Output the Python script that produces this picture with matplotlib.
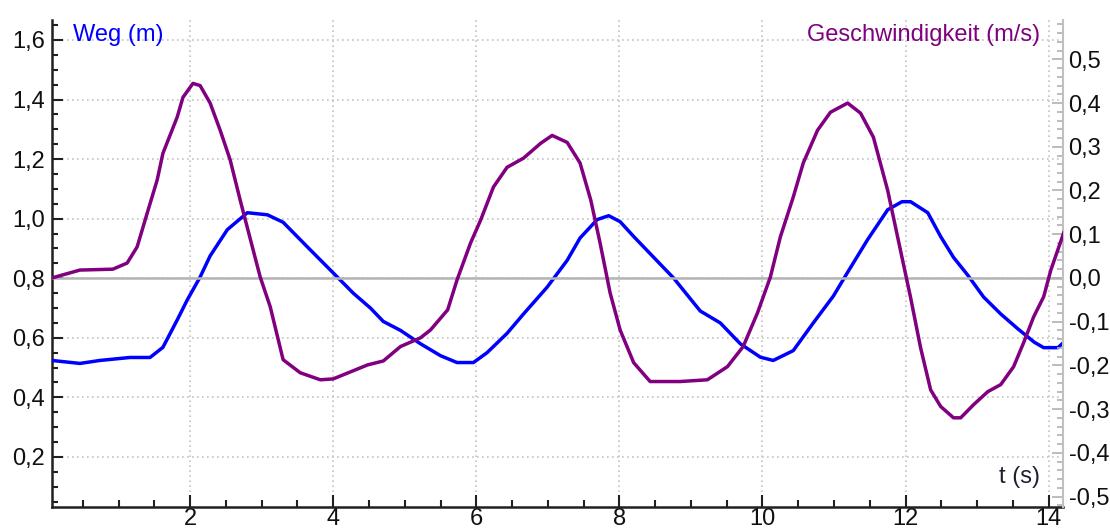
import matplotlib
matplotlib.use("Agg")
import matplotlib.pyplot as plt
from matplotlib.ticker import MultipleLocator, FuncFormatter

# Weg (m), left axis
t_weg = [0.07, 0.46, 0.74, 1.16, 1.44, 1.62, 1.82, 1.96, 2.14, 2.28, 2.52, 2.8,
         3.08, 3.3, 3.64, 4.0, 4.28, 4.52, 4.7, 4.94, 5.22, 5.5, 5.73, 5.96,
         6.15, 6.43, 6.66, 6.99, 7.27, 7.45, 7.69, 7.85, 8.01, 8.2, 8.48, 8.76,
         9.13, 9.41, 9.69, 9.97, 10.15, 10.43, 10.71, 10.99, 11.19, 11.47, 11.75,
         11.95, 12.07, 12.31, 12.49, 12.67, 12.87, 13.09, 13.33, 13.57, 13.8,
         13.93, 14.13, 14.21]
weg = [0.524, 0.514, 0.524, 0.534, 0.534, 0.568, 0.66, 0.727, 0.804, 0.875, 0.963, 1.02,
       1.013, 0.988, 0.905, 0.818, 0.75, 0.70, 0.655, 0.625, 0.58, 0.54, 0.517, 0.517,
       0.55, 0.615, 0.68, 0.77, 0.86, 0.935, 0.997, 1.01, 0.99, 0.94, 0.87, 0.80,
       0.69, 0.65, 0.58, 0.535, 0.524, 0.557, 0.65, 0.74, 0.82, 0.93, 1.03,
       1.057, 1.057, 1.02, 0.94, 0.87, 0.81, 0.737, 0.68, 0.63, 0.585,
       0.567, 0.567, 0.585]

# Geschwindigkeit (m/s), right axis
t_v = [0.07, 0.46, 0.92, 1.12, 1.26, 1.4, 1.54, 1.62, 1.82, 1.9, 2.04, 2.14, 2.28,
       2.42, 2.56, 2.7, 2.8, 2.98, 3.12, 3.3, 3.54, 3.82, 4.0, 4.24, 4.48, 4.7,
       4.94, 5.22, 5.36, 5.6, 5.73, 5.92, 6.06, 6.24, 6.43, 6.66, 6.9, 7.06, 7.27,
       7.45, 7.6, 7.73, 7.87, 8.01, 8.2, 8.43, 8.85, 9.23, 9.51, 9.73, 9.93, 10.11,
       10.25, 10.43, 10.57, 10.77, 10.95, 11.19, 11.37, 11.55, 11.75, 11.93, 12.07,
       12.21, 12.35, 12.49, 12.67, 12.77, 12.95, 13.15, 13.33, 13.51, 13.65, 13.79,
       13.93, 14.03, 14.21]
geschw = [0.0, 0.018, 0.02, 0.034, 0.071, 0.148, 0.224, 0.285, 0.368, 0.413, 0.445, 0.44, 0.40,
          0.338, 0.27, 0.178, 0.115, 0.002, -0.066, -0.187, -0.217, -0.233, -0.231, -0.215, -0.199, -0.19,
          -0.157, -0.137, -0.119, -0.073, -0.005, 0.08, 0.132, 0.208, 0.253, 0.274, 0.308, 0.326, 0.31,
          0.263, 0.178, 0.08, -0.034, -0.119, -0.194, -0.237, -0.237, -0.233, -0.203, -0.157, -0.08, 0.002,
          0.094, 0.185, 0.263, 0.338, 0.379, 0.40, 0.377, 0.322, 0.2, 0.062, -0.045,
          -0.16, -0.256, -0.294, -0.32, -0.32, -0.29, -0.26, -0.244, -0.203, -0.148, -0.089,
          -0.043, 0.018, 0.103]

BLUE = "#0000ff"
PURPLE = "#800080"
FONT = "Liberation Sans"
FS = 17

plt.rcParams["font.family"] = FONT

def komma(v, pos):
    if abs(v) < 1e-9:
        v = 0.0
    return f"{v:.1f}".replace(".", ",")

fig = plt.figure(figsize=(11.1, 5.32), dpi=100)
ax = fig.add_axes([52 / 1110, 25 / 532, 1011 / 1110, 487 / 532])
ax2 = ax.twinx()

# left axis
ax.plot(t_weg, weg, color=BLUE, lw=2.5, zorder=3)
ax.set_xlim(0.07, 14.2)
ax.set_ylim(0.032, 1.667)
ax.xaxis.set_major_locator(MultipleLocator(2))
ax.xaxis.set_minor_locator(MultipleLocator(0.5))
ax.yaxis.set_major_locator(MultipleLocator(0.2))
ax.yaxis.set_minor_locator(MultipleLocator(0.05))
ax.yaxis.set_major_formatter(FuncFormatter(komma))
ax.xaxis.set_major_formatter(FuncFormatter(lambda v, p: f"{v:.0f}"))
ax.grid(True, which="major", color="#c4c4c4", linestyle=(0, (1, 2)), lw=1.2)
ax.set_axisbelow(True)
ax.tick_params(axis="both", which="both", direction="in", width=1.5, color="#202020",
               labelsize=FS, labelcolor="#101010")
ax.tick_params(axis="y", which="major", length=8, pad=5)
ax.tick_params(axis="y", which="minor", length=4.5)
ax.tick_params(axis="x", which="major", length=9, pad=1)
ax.tick_params(axis="x", which="minor", length=5)
for s in ["top", "right"]:
    ax.spines[s].set_visible(False)
for s in ["left", "bottom"]:
    ax.spines[s].set_linewidth(1.8)
    ax.spines[s].set_color("#202020")

# right axis
ax2.axhline(0, color="#b4b4b4", lw=1.8, zorder=1)
ax2.plot(t_v, geschw, color=PURPLE, lw=2.5, zorder=3)
ax2.set_ylim(-0.524, 0.590)
ax2.yaxis.set_major_locator(MultipleLocator(0.1))
ax2.yaxis.set_minor_locator(MultipleLocator(0.02))
ax2.yaxis.set_major_formatter(FuncFormatter(komma))
ax2.tick_params(axis="y", which="both", direction="in", color="#b0b0b0", width=1.2,
                labelsize=FS, labelcolor="#101010")
ax2.tick_params(axis="y", which="major", length=8, pad=4)
ax2.tick_params(axis="y", which="minor", length=4.5)
for s in ["top", "left", "bottom"]:
    ax2.spines[s].set_visible(False)
ax2.spines["right"].set_color("#c0c0c0")
ax2.spines["right"].set_linewidth(1.5)

ax.text(0.021, 0.969, "Weg (m)", transform=ax.transAxes, color=BLUE,
        fontsize=FS, ha="left", va="center", zorder=5)
ax.text(0.977, 0.969, "Geschwindigkeit (m/s)", transform=ax.transAxes, color=PURPLE,
        fontsize=FS, ha="right", va="center", zorder=5)
ax.text(0.977, 0.062, "t (s)", transform=ax.transAxes, color="#202030",
        fontsize=FS, ha="right", va="center", zorder=5)

fig.savefig("out.png", dpi=100)
